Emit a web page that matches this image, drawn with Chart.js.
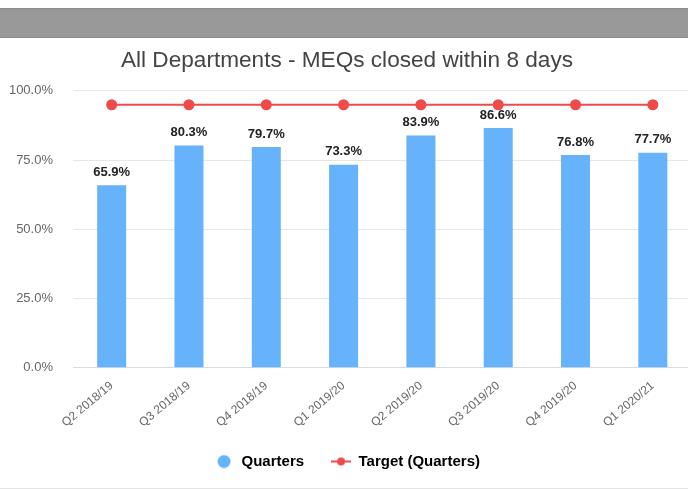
<!DOCTYPE html>
<html>
<head>
<meta charset="utf-8">
<script src="https://cdn.jsdelivr.net/npm/chart.js@4"></script>
<style>
    html, body { margin: 0; padding: 0; background: #fff; overflow: hidden; width: 688px; height: 490px; }
    #band { position: absolute; left: 0; top: 8px; width: 688px; height: 30px; background: #999; border-top: 1px solid #8c8c8c; border-bottom: 1px solid #8c8c8c; box-sizing: border-box; }
    #wrap { position: absolute; left: 0; top: 38px; width: 698px; height: 450px; }
    #foot { position: absolute; left: 0; top: 488px; width: 688px; height: 1px; background: #e6e6e6; }
</style>
</head>
<body>
<div id="band"></div>
<div id="wrap"><canvas id="meqChart"></canvas></div>
<div id="foot"></div>
<script>
// Chart data
const quarters = ['Q2 2018/19', 'Q3 2018/19', 'Q4 2018/19', 'Q1 2019/20', 'Q2 2019/20', 'Q3 2019/20', 'Q4 2019/20', 'Q1 2020/21'];
const closedPct = [65.9, 80.3, 79.7, 73.3, 83.9, 86.6, 76.8, 77.7];
const targetPct = [95, 95, 95, 95, 95, 95, 95, 95];
const yTicks = [0, 25, 50, 75, 100];

const barColor = '#66b2fb';
const lineColor = '#ef4b4b';
const fontFamily = '"Liberation Sans", Arial, sans-serif';

// Legend icons drawn on small canvases
function circleIcon() {
    const c = document.createElement('canvas');
    c.width = 20;
    c.height = 14;
    const g = c.getContext('2d');
    g.fillStyle = barColor;
    g.beginPath();
    g.arc(10, 7, 6.5, 0, Math.PI * 2);
    g.fill();
    return c;
}

function targetIcon() {
    const c = document.createElement('canvas');
    c.width = 20;
    c.height = 14;
    const g = c.getContext('2d');
    g.strokeStyle = lineColor;
    g.lineWidth = 2;
    g.beginPath();
    g.moveTo(0, 7);
    g.lineTo(20, 7);
    g.stroke();
    g.fillStyle = lineColor;
    g.beginPath();
    g.arc(10, 7, 4, 0, Math.PI * 2);
    g.fill();
    return c;
}

// Value labels above the bars
const barLabels = {
    id: 'barLabels',
    afterDatasetsDraw(chart) {
        const ctx = chart.ctx;
        const meta = chart.getDatasetMeta(1);
        ctx.save();
        ctx.font = 'bold 13px ' + fontFamily;
        ctx.fillStyle = '#222';
        ctx.textAlign = 'center';
        ctx.textBaseline = 'middle';
        meta.data.forEach(function(bar, i) {
            ctx.fillText(closedPct[i].toFixed(1) + '%', bar.x, bar.y - 13);
        });
        ctx.restore();
    }
};

const ctx = document.getElementById('meqChart').getContext('2d');
const meqChart = new Chart(ctx, {
    data: {
        labels: quarters,
        datasets: [
            {
                type: 'line',
                label: 'Target (Quarters)',
                data: targetPct,
                borderColor: lineColor,
                backgroundColor: lineColor,
                borderWidth: 2,
                pointRadius: 4.5,
                pointHoverRadius: 4.5,
                fill: false,
                order: 0
            },
            {
                type: 'bar',
                label: 'Quarters',
                data: closedPct,
                backgroundColor: barColor,
                borderWidth: 0,
                barPercentage: 0.375,
                categoryPercentage: 1,
                order: 1
            }
        ]
    },
    options: {
        responsive: true,
        maintainAspectRatio: false,
        animation: false,
        layout: {
            padding: { top: 0, right: 4, bottom: 9, left: 0 }
        },
        scales: {
            x: {
                grid: { display: false, drawTicks: false },
                border: { display: true, color: '#d6dbe6' },
                afterFit: function(axis) {
                    axis.height = axis.height - 14;
                },
                ticks: {
                    color: '#666',
                    font: { family: fontFamily, size: 12 },
                    maxRotation: 40,
                    minRotation: 40,
                    padding: 11
                }
            },
            y: {
                min: 0,
                max: 100,
                afterBuildTicks: function(axis) {
                    axis.ticks = yTicks.map(function(v) { return { value: v }; });
                },
                afterFit: function(axis) {
                    axis.width = 73;
                },
                grid: { color: '#e6e6e6', drawTicks: false },
                border: { display: false },
                ticks: {
                    color: '#666',
                    padding: 20,
                    font: { family: fontFamily, size: 13 },
                    callback: function(value) { return value.toFixed(1) + '%'; }
                }
            }
        },
        plugins: {
            title: {
                display: true,
                text: 'All Departments - MEQs closed within 8 days',
                color: '#444',
                font: { family: fontFamily, size: 22.6, weight: 'normal' },
                padding: { top: 9, bottom: 16.8 }
            },
            legend: {
                position: 'bottom',
                labels: {
                    color: '#333',
                    usePointStyle: true,
                    pointStyleWidth: 20,
                    boxHeight: 14,
                    padding: 27,
                    font: { family: fontFamily, size: 15, weight: 'bold' },
                    generateLabels: function(chart) {
                        return [
                            { text: 'Quarters', fillStyle: barColor, strokeStyle: barColor, lineWidth: 0, pointStyle: circleIcon(), datasetIndex: 1 },
                            { text: 'Target (Quarters)', fillStyle: lineColor, strokeStyle: lineColor, lineWidth: 0, pointStyle: targetIcon(), datasetIndex: 0 }
                        ];
                    }
                }
            },
            tooltip: { enabled: false }
        }
    },
    plugins: [barLabels]
});
</script>
</body>
</html>
